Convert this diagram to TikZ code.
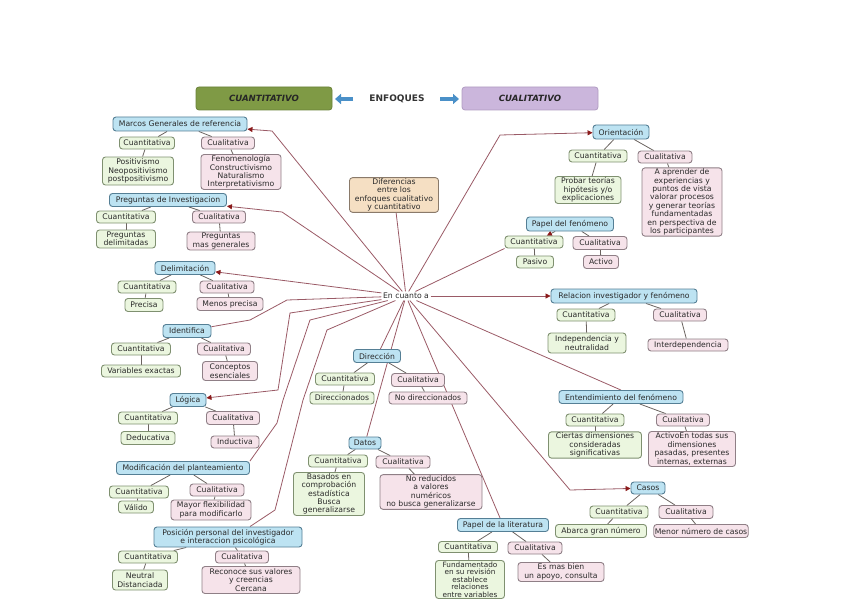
\documentclass[tikz,border=0pt]{standalone}
\usepackage{fontspec}
\setmainfont{DejaVu Sans}
\usetikzlibrary{arrows.meta,calc}
\definecolor{txt}{HTML}{2A2A2A}
\definecolor{topicf}{HTML}{BDE3F2}
\definecolor{topicb}{HTML}{557F95}
\definecolor{qf}{HTML}{EBF6DF}
\definecolor{qb}{HTML}{7F9070}
\definecolor{lf}{HTML}{F6E3EA}
\definecolor{lb}{HTML}{8F7F86}
\definecolor{diff}{HTML}{F5DFC3}
\definecolor{diffb}{HTML}{8A7A6A}
\definecolor{linkc}{HTML}{9A5A66}
\definecolor{arrc}{HTML}{8B1A1A}
\definecolor{subc}{HTML}{6B6460}
\definecolor{hgreen}{HTML}{7F9A45}
\definecolor{hgreenb}{HTML}{6A8238}
\definecolor{hpurple}{HTML}{CBB6DC}
\definecolor{hpurpleb}{HTML}{B09CC2}
\definecolor{harrow}{HTML}{4A90C8}
\pgfdeclarelayer{background}
\pgfsetlayers{background,main}
\newcommand\mybox[6]{\node[#1,minimum width=#4,minimum height=#5] (#2) at (#3) {#6};}
\begin{document}
\begin{tikzpicture}[x=1pt,y=-1pt,
  base/.style={rounded corners=3pt, line width=0.9pt, inner sep=1pt, align=center,
    font=\fontsize{7.7}{8.4}\selectfont, text=txt},
  topic/.style={base, draw=topicb, fill=topicf},
  qbox/.style={base, draw=qb, fill=qf},
  lbox/.style={base, draw=lb, fill=lf},
  dbox/.style={base, draw=diffb, fill=diff},
  mainlink/.style={draw=linkc, line width=0.8pt},
  marr/.style={mainlink, -{Triangle[length=5pt,width=5pt,color=arrc]}},
  sublink/.style={draw=subc, line width=0.8pt},
  hbox/.style={rounded corners=3pt, line width=0.8pt, minimum width=136, minimum height=23,
    font=\fontsize{8.6}{9}\selectfont\bfseries\itshape, text=black!85},
  harr/.style={draw=harrow, line width=4pt, -{Triangle[length=6pt,width=10pt,color=harrow]}}
]
\useasboundingbox (0,0) rectangle (848,599);

% header
\node[hbox, draw=hgreenb, fill=hgreen] (hq) at (264,98.5) {CUANTITATIVO};
\node[hbox, draw=hpurpleb, fill=hpurple] (hl) at (530,98.5) {CUALITATIVO};
\node[font=\fontsize{9}{10}\selectfont\bfseries, text=black!80, inner sep=1pt] (enf) at (397,99) {ENFOQUES};
\coordinate (al1) at (353,99); \coordinate (al2) at (335,99);
\coordinate (ar1) at (440,99); \coordinate (ar2) at (459,99);
\draw[harr] (al1) -- (al2);
\draw[harr] (ar1) -- (ar2);

% centre
\mybox{dbox}{dif}{394,195}{89}{34}{Diferencias\\entre los\\enfoques cualitativo\\y cuantitativo}
\node[font=\fontsize{7.7}{8.4}\selectfont, text=txt, inner sep=1.5pt, fill=white] (enc) at (406,296) {En cuanto a};

% left column
\mybox{topic}{marcos}{180,124}{134}{14}{Marcos Generales de referencia}
\mybox{qbox}{m1q}{147,143}{55}{12}{Cuantitativa}
\mybox{lbox}{m1l}{228,143}{53}{12}{Cualitativa}
\mybox{qbox}{m1qd}{138,171}{71}{28}{Positivismo\\Neopositivismo\\postpositivismo}
\mybox{lbox}{m1ld}{241,172}{80}{34}{Fenomenología\\Constructivismo\\Naturalismo\\Interpretativismo}

\mybox{topic}{preg}{168,200}{117}{13}{Preguntas de Investigacion}
\mybox{qbox}{p1q}{126,217}{59}{12}{Cuantitativa}
\mybox{lbox}{p1l}{219,217}{53}{12}{Cualitativa}
\mybox{qbox}{p1qd}{126,239}{59}{18}{Preguntas\\delimitadas}
\mybox{lbox}{p1ld}{221,241}{68}{18}{Preguntas\\mas generales}

\mybox{topic}{delim}{185,268}{60}{13}{Delimitación}
\mybox{qbox}{dq}{147,287}{58}{12}{Cuantitativa}
\mybox{lbox}{dl}{227,287}{54}{12}{Cualitativa}
\mybox{qbox}{dqd}{144,305}{38}{13}{Precisa}
\mybox{lbox}{dld}{230,304}{66}{13}{Menos precisa}

\mybox{topic}{ident}{187,331}{48}{13}{Identifica}
\mybox{qbox}{iq}{141,349}{59}{12}{Cuantitativa}
\mybox{lbox}{il}{224,349}{53}{12}{Cualitativa}
\mybox{qbox}{iqd}{141,371}{79}{12}{Variables exactas}
\mybox{lbox}{ild}{230,371}{55}{19}{Conceptos\\esenciales}

\mybox{topic}{logica}{188,400}{36}{13}{Lógica}
\mybox{qbox}{lq}{148,418}{59}{12}{Cuantitativa}
\mybox{lbox}{ll}{233,418}{53}{13}{Cualitativa}
\mybox{qbox}{lqd}{148,438}{54}{13}{Deducativa}
\mybox{lbox}{lld}{235,442}{48}{12}{Inductiva}

\mybox{topic}{modif}{183,468}{133}{13}{Modificación del planteamiento}
\mybox{qbox}{moq}{139,492}{59}{12}{Cuantitativa}
\mybox{lbox}{mol}{217,490}{54}{12}{Cualitativa}
\mybox{qbox}{moqd}{136,507}{35}{12}{Válido}
\mybox{lbox}{mold}{211,510}{80}{20}{Mayor flexibilidad\\para modificarlo}

\mybox{topic}{posic}{228,537}{148}{20}{Posición personal del investigador\\e interaccion psicológica}
\mybox{qbox}{poq}{148,557}{59}{12}{Cuantitativa}
\mybox{lbox}{pol}{242,557}{53}{12}{Cualitativa}
\mybox{qbox}{poqd}{140,580}{55}{20}{Neutral\\Distanciada}
\mybox{lbox}{pold}{251,580}{98}{27}{Reconoce sus valores\\y creencias\\Cercana}

% middle column
\mybox{topic}{direc}{377,356}{47}{13}{Dirección}
\mybox{qbox}{diq}{345,379}{59}{12}{Cuantitativa}
\mybox{lbox}{dil}{418,380}{53}{13}{Cualitativa}
\mybox{qbox}{diqd}{342,398}{64}{12}{Direccionados}
\mybox{lbox}{dild}{428,398}{78}{12}{No direccionados}

\mybox{topic}{datos}{365,443}{32}{12}{Datos}
\mybox{qbox}{daq}{338,461}{59}{12}{Cuantitativa}
\mybox{lbox}{dal}{403,462}{54}{12}{Cualitativa}
\mybox{qbox}{daqd}{329,494}{71}{40}{Basados en\\comprobación\\estadística\\Busca\\generalizarse}
\mybox{lbox}{dald}{431,492}{102}{34}{No reducidos\\a valores\\numéricos\\no busca generalizarse}

\mybox{topic}{plit}{503,525}{91}{13}{Papel de la literatura}
\mybox{qbox}{plq}{468,547}{59}{11}{Cuantitativa}
\mybox{lbox}{pll}{535,548}{54}{12}{Cualitativa}
\node[qbox, minimum width=69, minimum height=38, font=\fontsize{7.3}{7.4}\selectfont] (plqd) at (470,579.5) {Fundamentado\\en su revisión\\establece\\relaciones\\entre variables};
\mybox{lbox}{plld}{561,572}{86}{19}{Es mas bien\\un apoyo, consulta}

% right column
\mybox{topic}{orient}{621,132}{56}{14}{Orientación}
\mybox{qbox}{oq}{598,156}{58}{12}{Cuantitativa}
\mybox{lbox}{ol}{665,157}{54}{12}{Cualitativa}
\mybox{qbox}{oqd}{588,190}{66}{27}{Probar teorías\\hipótesis y/o\\explicaciones}
\mybox{lbox}{old}{682,202}{80}{61}{A aprender de\\experiencias y\\puntos de vista\\valorar procesos\\y generar teorías\\fundamentadas\\en perspectiva de\\los participantes}

\mybox{topic}{pfen}{570,224}{87}{14}{Papel del fenómeno}
\mybox{qbox}{pfq}{534,242}{58}{12}{Cuantitativa}
\mybox{lbox}{pfl}{600,243}{54}{13}{Cualitativa}
\mybox{qbox}{pfqd}{535,262}{37}{12}{Pasivo}
\mybox{lbox}{pfld}{601,262}{35}{13}{Activo}

\mybox{topic}{relac}{624,296}{146}{14}{Relacion investigador y fenómeno}
\mybox{qbox}{rq}{586,315}{58}{12}{Cuantitativa}
\mybox{lbox}{rl}{680,315}{53}{12}{Cualitativa}
\mybox{qbox}{rqd}{587,343}{78}{20}{Independencia y\\neutralidad}
\mybox{lbox}{rld}{688,345}{80}{12}{Interdependencia}

\mybox{topic}{entend}{621,397}{124}{13}{Entendimiento del fenómeno}
\mybox{qbox}{eq}{595,420}{58}{12}{Cuantitativa}
\mybox{lbox}{el}{683,420}{53}{12}{Cualitativa}
\mybox{qbox}{eqd}{595,445}{93}{26}{Ciertas dimensiones\\consideradas\\significativas}
\mybox{lbox}{eld}{692,449}{87}{35}{ActivoEn todas sus\\dimensiones\\pasadas, presentes\\internas, externas}

\mybox{topic}{casos}{648,488}{34}{12}{Casos}
\mybox{qbox}{cq}{619,512}{58}{12}{Cuantitativa}
\mybox{lbox}{cl}{686,512}{54}{13}{Cualitativa}
\mybox{qbox}{cqd}{601,531}{91}{13}{Abarca gran número}
\mybox{lbox}{cld}{701,531}{85}{13}{Menor número de casos}

\begin{pgfonlayer}{background}
% main links
\draw[mainlink] (dif) -- (enc);
\draw[marr] (enc) -- (272,131) -- (marcos);
\draw[marr] (enc) -- (282,212) -- (preg);
\draw[marr] (enc) -- (delim);
\draw[mainlink] (enc) -- (287,300) -- (250,320) -- (ident);
\draw[marr] (enc) -- (290,313) -- (278,390) -- (logica);
\draw[mainlink] (enc) -- (310,320) -- (283,400) -- (277,423) -- (modif.north east);
\draw[mainlink] (enc) -- (327,330) -- (303,400) -- (275,510) -- ([xshift=22pt]posic.north);
\draw[mainlink] (enc) -- (direc);
\draw[mainlink] (enc) -- (datos);
\draw[mainlink] (enc) -- (plit);
\draw[marr] (enc) -- (500,135) -- (orient);
\draw[mainlink] (enc) -- (pfq.south west);
\draw[marr] (enc) -- (relac);
\draw[mainlink] (enc) -- (entend.north);
\draw[marr] (enc) -- (570,490) -- (casos);
% sub links
\foreach \p/\a/\b/\c/\d in {marcos/m1q/m1l/m1qd/m1ld, preg/p1q/p1l/p1qd/p1ld,
  delim/dq/dl/dqd/dld, ident/iq/il/iqd/ild, logica/lq/ll/lqd/lld,
  modif/moq/mol/moqd/mold, posic/poq/pol/poqd/pold, direc/diq/dil/diqd/dild,
  datos/daq/dal/daqd/dald, plit/plq/pll/plqd/plld, orient/oq/ol/oqd/old,
  relac/rq/rl/rqd/rld, entend/eq/el/eqd/eld, casos/cq/cl/cqd/cld}{
  \draw[sublink] (\p) -- (\a);
  \draw[sublink] (\p) -- (\b);
  \draw[sublink] (\a) -- (\c);
  \draw[sublink] (\b) -- (\d);
}
\draw[sublink, -{Triangle[length=5pt,width=5pt,color=arrc]}] (pfen) -- (pfq);
\draw[sublink] (pfen) -- (pfl);
\draw[sublink] (pfq) -- (pfqd);
\draw[sublink] (pfl) -- (pfld);
\end{pgfonlayer}
\end{tikzpicture}
\end{document}
